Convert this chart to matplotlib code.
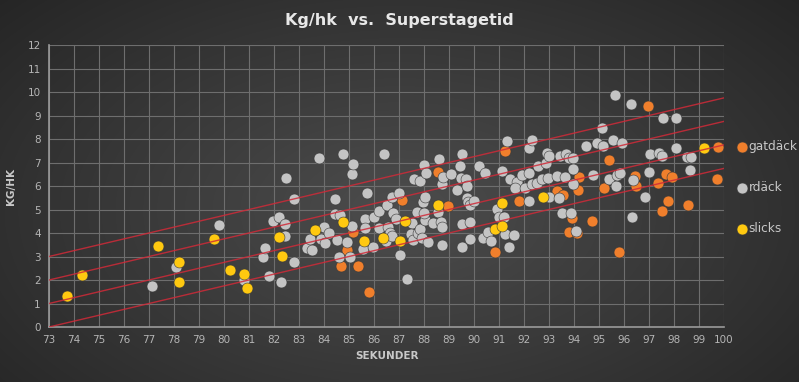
import numpy as np
import matplotlib
matplotlib.use("Agg")
import matplotlib.pyplot as plt

# ---------------- data ----------------
gat_x = [84.67, 84.9, 85.17, 85.37, 85.8, 87.13, 88.55, 88.95, 90.84, 91.25, 91.8,
         93.3, 93.56, 93.8, 93.9, 94.1, 94.15, 94.2, 94.7, 95.2, 95.4, 95.8, 96.44,
         96.47, 96.95, 97.37, 97.5, 97.66, 97.77, 97.9, 98.55, 99.73, 99.75]
gat_y = [2.6, 3.28, 4.04, 2.6, 1.48, 5.39, 6.58, 5.15, 3.18, 7.47, 5.38,
         5.8, 5.62, 4.03, 4.63, 3.99, 5.83, 6.37, 4.5, 5.9, 7.1, 3.19, 6.44,
         5.98, 9.4, 6.11, 4.94, 6.52, 5.36, 6.38, 5.21, 6.3, 7.68]

rd_x = [77.13, 78.1, 79.8, 80.8, 81.57, 81.64, 81.8, 81.97, 82.2, 82.27, 82.44, 82.45,
        82.47, 82.8, 82.8, 83.3, 83.44, 83.5, 83.8, 83.86, 84.0, 84.04, 84.2, 84.44,
        84.44, 84.53, 84.6, 84.64, 84.77, 84.9, 85.05, 85.1, 85.1, 85.15, 85.55, 85.64,
        85.65, 85.73, 85.97, 86.0, 86.2, 86.2, 86.4, 86.47, 86.5, 86.55, 86.64, 86.7,
        86.7, 86.77, 86.87, 86.98, 87.04, 87.3, 87.5, 87.47, 87.57, 87.6, 87.7, 87.84,
        87.75, 87.84, 87.93, 87.95, 88.0, 88.04, 88.05, 88.0, 88.07, 88.17, 88.35, 88.57,
        88.6, 88.68, 88.7, 88.7, 88.7, 88.77, 89.07, 89.3, 89.44, 89.46, 89.5, 89.5,
        89.5, 89.68, 89.7, 89.7, 89.77, 89.84, 89.84, 89.84, 90.0, 90.2, 90.35, 90.45,
        90.55, 90.67, 90.9, 91.0, 91.2, 91.1, 91.24, 91.3, 91.4, 91.44, 91.7, 91.64,
        91.6, 91.9, 92.04, 92.2, 92.2, 92.2, 92.3, 92.33, 92.53, 92.55, 92.7, 92.88,
        92.9, 92.96, 93.0, 93.0, 93.3, 93.4, 93.44, 93.5, 93.64, 93.67, 93.8, 93.88,
        93.97, 93.97, 93.97, 94.07, 94.48, 94.77, 94.9, 95.1, 95.17, 95.4, 95.55, 95.63,
        95.68, 95.7, 95.84, 95.9, 96.28, 96.3, 96.37, 96.84, 97.0, 97.04, 97.4, 97.5,
        97.55, 98.07, 98.08, 98.5, 98.66, 98.63]
rd_y = [1.74, 2.57, 4.34, 2.0, 2.98, 3.36, 2.18, 4.52, 4.7, 1.9, 3.86, 4.4,
        6.33, 5.43, 2.75, 3.38, 3.76, 3.29, 7.19, 3.75, 4.27, 3.56, 4.0, 5.43,
        4.8, 3.7, 3.0, 4.75, 7.38, 3.63, 2.98, 6.51, 4.28, 6.94, 3.3, 4.58,
        4.2, 5.69, 3.42, 4.7, 4.95, 4.2, 7.38, 3.64, 5.2, 4.27, 4.02, 5.54,
        3.87, 4.84, 4.6, 5.7, 3.08, 2.04, 4.41, 3.96, 3.7, 6.31, 4.89, 6.21,
        4.0, 4.15, 3.77, 5.33, 6.89, 4.55, 5.55, 4.84, 6.55, 3.63, 4.41, 4.91,
        7.13, 4.48, 4.27, 6.08, 3.49, 6.4, 6.5, 5.83, 6.85, 6.34, 7.36, 3.42,
        4.4, 6.31, 5.98, 5.5, 5.3, 5.19, 3.75, 4.48, 5.38, 6.86, 3.77, 6.57,
        4.06, 3.68, 5.02, 4.69, 4.66, 6.64, 3.95, 7.92, 3.41, 6.31, 6.18, 5.93,
        3.91, 6.47, 5.9, 6.57, 7.63, 5.38, 6.1, 7.96, 6.11, 6.85, 6.31, 6.99,
        7.42, 6.36, 7.28, 5.53, 6.42, 5.47, 7.28, 4.87, 6.37, 7.36, 7.18, 4.85,
        7.18, 6.74, 6.08, 4.08, 7.7, 6.47, 7.82, 8.45, 7.7, 6.3, 7.97, 9.88,
        6.0, 6.48, 6.55, 7.81, 9.5, 4.67, 6.27, 5.54, 6.58, 7.36, 7.4, 7.26,
        8.91, 8.91, 7.63, 7.25, 7.25, 6.69]

sl_x = [73.7, 74.3, 77.35, 78.2, 78.2, 79.6, 80.25, 80.8, 80.9, 82.2, 82.3, 83.65,
        84.75, 85.6, 86.35, 87.04, 87.25, 88.55, 90.84, 91.1, 91.13, 92.75, 99.2]
sl_y = [1.32, 2.2, 3.45, 2.78, 1.91, 3.73, 2.43, 2.25, 1.68, 3.83, 3.02, 4.12,
        4.45, 3.64, 3.8, 3.66, 4.51, 5.19, 4.19, 5.26, 4.31, 5.55, 7.62]

line_offsets = [0, 1, 2, 3]
line_slope = 0.25
x_ticks = list(range(73, 101))
y_ticks = list(range(0, 13))

series = [("gatdäck", gat_x, gat_y, "#f07f2c"),
          ("rdäck", rd_x, rd_y, "#c4c4c4"),
          ("slicks", sl_x, sl_y, "#ffc910")]

# ---------------- figure ----------------
W, H = 799, 382
fig = plt.figure(figsize=(W / 100, H / 100), dpi=100)

# radial gradient background
bg = fig.add_axes([0, 0, 1, 1])
yy, xx = np.mgrid[0:H, 0:W]
r = np.sqrt(((xx - W * 0.5) / (W * 0.62)) ** 2 + ((yy - H * 0.55) / (H * 0.75)) ** 2)
val = 0.30 - 0.14 * np.clip(r, 0, 1.2)
img = np.dstack([val, val, val])
bg.imshow(img, aspect="auto", extent=[0, 1, 0, 1], origin="upper")
bg.set_axis_off()

ax = fig.add_axes([49 / W, 1 - 327 / H, (724 - 49) / W, (327 - 45) / H])
ax.set_facecolor("none")
ax.set_xlim(73, 100)
ax.set_ylim(0, 12)
ax.set_xticks(x_ticks)
ax.set_yticks(y_ticks)
ax.grid(True, color="#6e6e6e", lw=0.8, zorder=0)
ax.set_axisbelow(True)
for s in ["top", "right"]:
    ax.spines[s].set_visible(False)
for s in ["left", "bottom"]:
    ax.spines[s].set_color("#9a9a9a")
    ax.spines[s].set_linewidth(1.2)
ax.tick_params(colors="#b5b5b5", labelsize=7.5, length=0, pad=6)

# series
for name, xs, ys, col in series:
    ax.scatter(xs, ys, s=62, color=col, edgecolors="#3a3a3a", linewidths=0.4,
               zorder=3, label=name)

# trend lines
xl = np.array([73, 100])
for c in line_offsets:
    ax.plot(xl, line_slope * (xl - 73) + c, color="#d02a38", lw=1.0, alpha=0.85, zorder=4)

ax.set_xlabel("SEKUNDER", color="#c8c8c8", fontsize=7.5, fontweight="bold", labelpad=4)
ax.set_ylabel("KG/HK", color="#c8c8c8", fontsize=7.5, fontweight="bold", labelpad=8)

fig.text(0.5, 1 - 20 / H, "Kg/hk  vs.  Superstagetid", ha="center", va="center",
         color="#e8e8e8", fontsize=11.5, fontweight="bold")

leg = ax.legend(loc="upper left", bbox_to_anchor=(1.014, 0.662), frameon=False,
                labelcolor="#c8c8c8", fontsize=8.7, handletextpad=-0.15,
                handlelength=1.4, labelspacing=2.3, borderaxespad=0,
                borderpad=0, markerscale=1.0)

fig.savefig("out.png", dpi=100, facecolor="#333333")
